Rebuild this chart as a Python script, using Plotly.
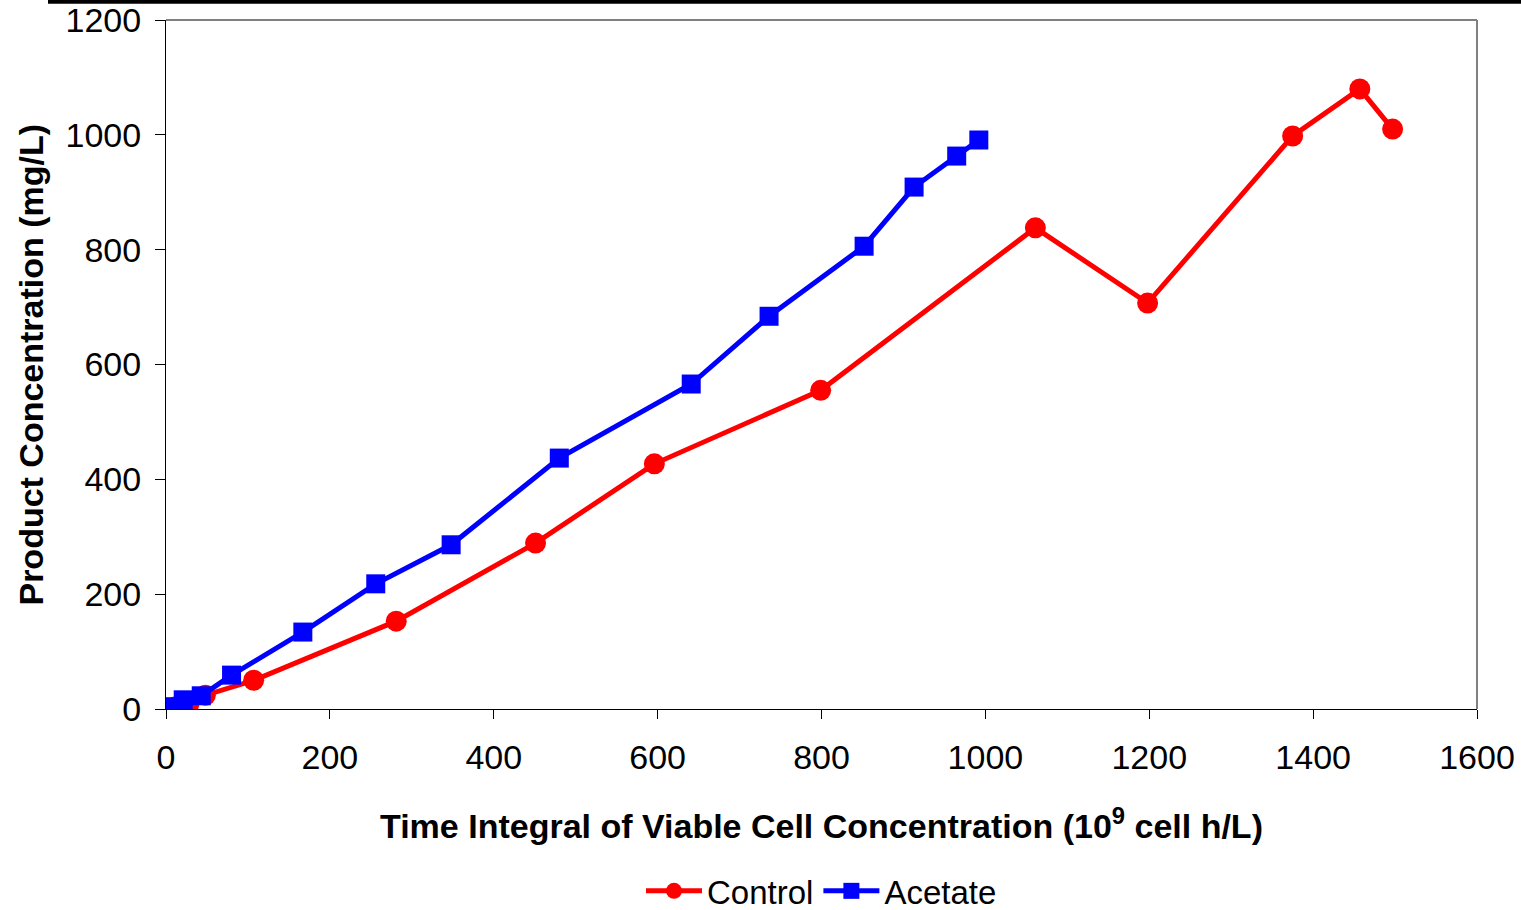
import plotly.graph_objects as go

control_x = [0, 12, 28, 48, 107, 281, 451, 596, 799, 1061, 1198, 1375, 1457, 1497]
control_y = [0, 4, 9, 24, 50, 153, 289, 427, 555, 838, 707, 998, 1080, 1010]

acetate_x = [0, 5, 21, 43, 80, 167, 256, 348, 480, 641, 736, 852, 913, 965, 992]
acetate_y = [2, 4, 16, 23, 59, 134, 218, 286, 437, 566, 684, 806, 909, 963, 991]

x_ticks = [0, 200, 400, 600, 800, 1000, 1200, 1400, 1600]
y_ticks = [0, 200, 400, 600, 800, 1000, 1200]

x_title = "<b>Time Integral of Viable Cell Concentration (10<sup>9</sup> cell h/L)</b>"
y_title = "<b>Product Concentration (mg/L)</b>"

FONT = "Liberation Sans, Arial, sans-serif"

fig = go.Figure()
fig.add_trace(go.Scatter(
    x=control_x, y=control_y, name="Control", mode="lines+markers",
    line=dict(color="#FF0000", width=5),
    marker=dict(symbol="circle", size=21, color="#FF0000", line=dict(width=0)),
))
fig.add_trace(go.Scatter(
    x=acetate_x, y=acetate_y, name="Acetate", mode="lines+markers",
    line=dict(color="#0000FF", width=5),
    marker=dict(symbol="square", size=19, color="#0000FF", line=dict(width=0)),
))

fig.update_layout(
    width=1521, height=910,
    margin=dict(l=166, r=44, t=20, b=201, autoexpand=False),
    paper_bgcolor="white", plot_bgcolor="white",
    font=dict(family=FONT, size=34, color="black"),
    showlegend=True,
    legend=dict(orientation="h", x=0.5, xanchor="center", y=-0.264, yanchor="middle",
                font=dict(size=33, family=FONT), itemwidth=56, bgcolor="rgba(0,0,0,0)"),
    xaxis=dict(
        range=[0, 1600], tickvals=x_ticks, ticktext=[str(v) for v in x_ticks],
        showgrid=False, zeroline=False, showline=True, linecolor="black", linewidth=1,
        ticks="outside", ticklen=9, tickcolor="black", tickwidth=1, automargin=False,
        tickfont=dict(size=34, family=FONT), ticklabelstandoff=9,
    ),
    yaxis=dict(
        range=[0, 1200], tickvals=y_ticks, ticktext=[str(v) for v in y_ticks],
        showgrid=False, zeroline=False, showline=True, linecolor="black", linewidth=1,
        ticks="outside", ticklen=10, tickcolor="black", tickwidth=1, automargin=False,
        tickfont=dict(size=34, family=FONT), ticklabelstandoff=7,
    ),
    annotations=[
        dict(text=x_title, xref="paper", yref="paper", x=0.5, y=-0.1655,
             xanchor="center", yanchor="middle", showarrow=False,
             font=dict(size=34, family=FONT, color="black")),
        dict(text=y_title, xref="paper", yref="paper", x=-0.1037, y=0.5,
             xanchor="center", yanchor="middle", showarrow=False, textangle=-90,
             font=dict(size=34, family=FONT, color="black")),
    ],
)

# top border and right border
fig.add_shape(type="line", xref="paper", yref="paper", x0=0, x1=1, y0=1, y1=1,
              line=dict(color="black", width=1))
fig.add_shape(type="line", xref="paper", yref="paper", x0=1, x1=1, y0=0, y1=1,
              line=dict(color="#808080", width=2))
# top black bar
fig.add_shape(type="rect", xref="paper", yref="paper", x0=-0.09, x1=1.04, y0=1.0235, y1=1.03,
              fillcolor="black", line=dict(width=0), layer="above")

fig.write_html("out.html")
